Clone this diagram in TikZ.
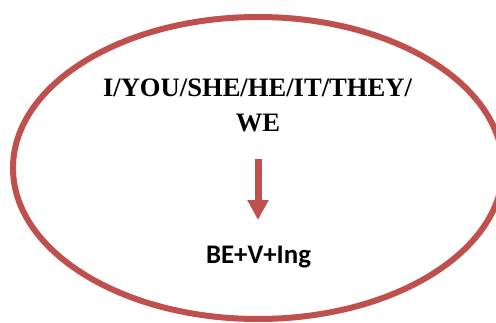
\documentclass[tikz,border=0pt]{standalone}
\usepackage{fontspec}
\setmainfont{Liberation Serif}
\newfontfamily\calib{Carlito}
\usetikzlibrary{arrows.meta}
\definecolor{accred}{HTML}{C0504D}
\begin{document}
\begin{tikzpicture}[x=1pt,y=1pt,
  pron/.style={font=\fontsize{26.6}{32}\selectfont\bfseries, anchor=base, inner sep=0pt},
  form/.style={font=\calib\fontsize{26.8}{32}\selectfont\bfseries, anchor=base, inner sep=0pt},
  ring/.style={draw=accred, line width=6pt},
  flow/.style={draw=accred, line width=7pt, -{Triangle[width=20pt,length=20pt]}}]
\useasboundingbox (0,0) rectangle (496,322);
\clip (0,0) rectangle (496,322);
\fill[white] (0,0) rectangle (496,322);
\draw[ring] (258,154) ellipse [x radius=245, y radius=151];
\node[pron] (l1) at (257.5,225) {I/YOU/SHE/HE/IT/THEY/};
\node[pron] (l2) at (258,190) {WE};
\node[form] (be) at (258.5,58.5) {BE+V+Ing};
\coordinate (a) at (258,163);
\coordinate (b) at (258,102);
\draw[flow] (a) -- (b);
\end{tikzpicture}
\end{document}
